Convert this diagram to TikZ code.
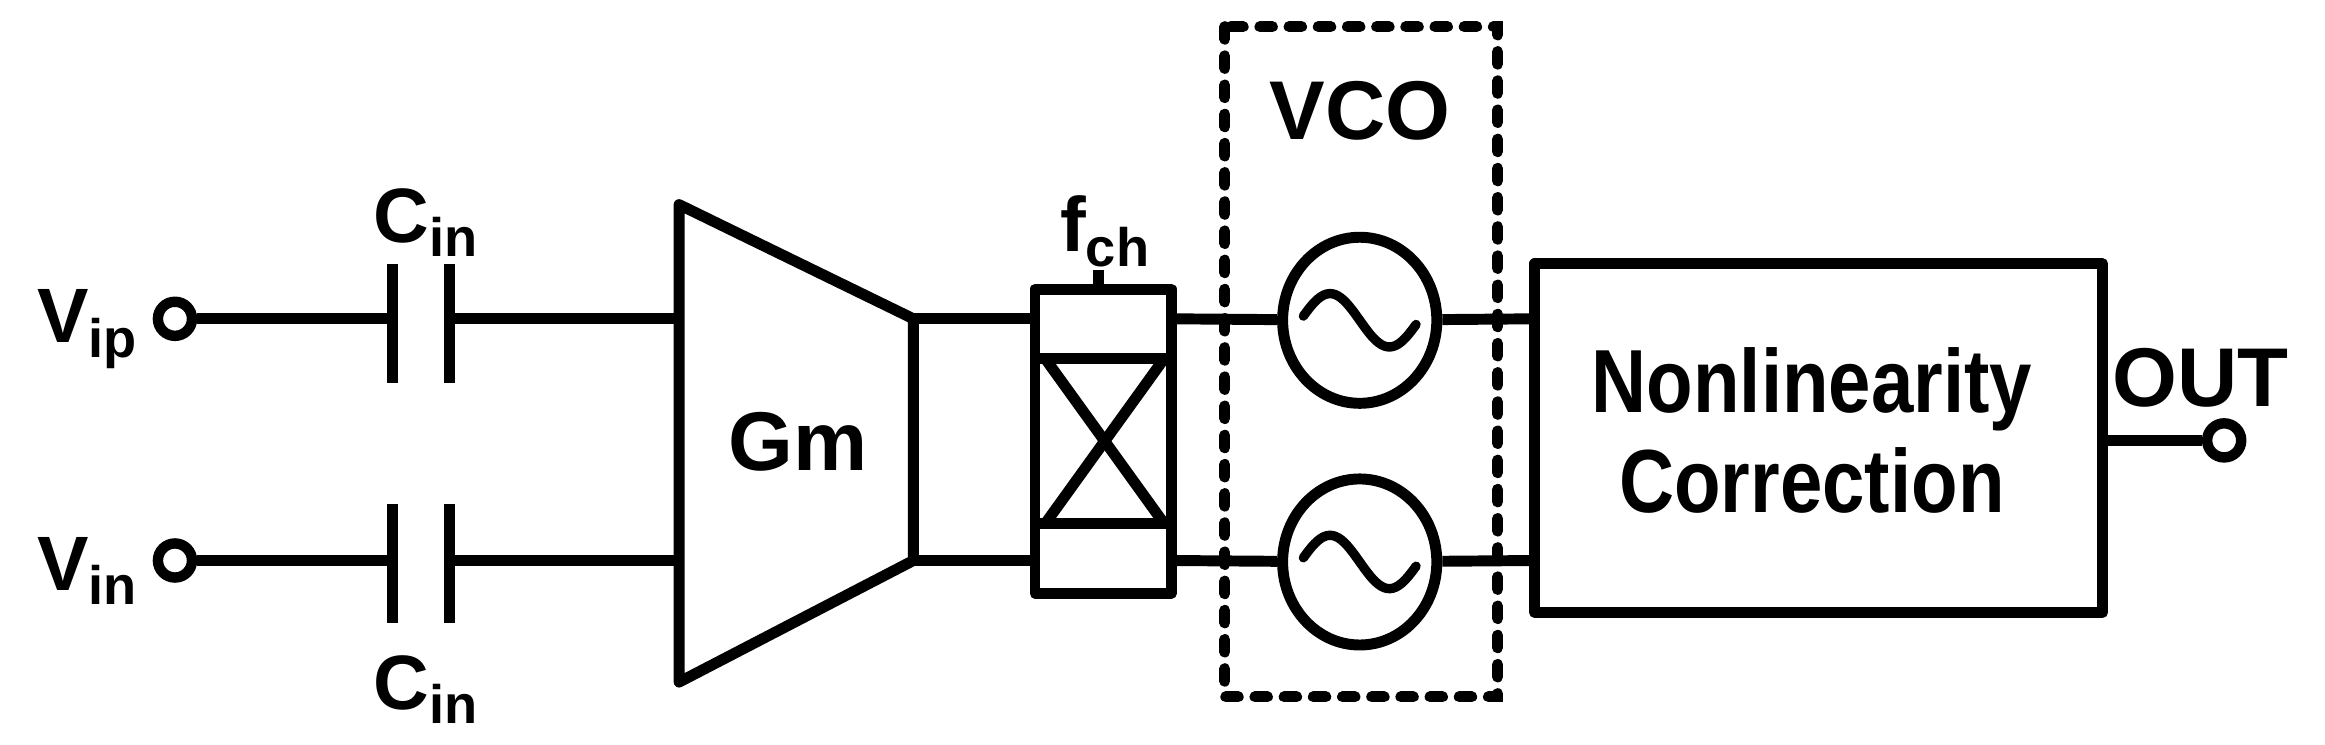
\documentclass[tikz,border=0pt]{standalone}
\usepackage{fontspec}
\usetikzlibrary{shapes.geometric}
\setmainfont{Liberation Sans}
\begin{document}
\begin{tikzpicture}[x=0.05cm,y=-0.05cm,line width=10.5pt,
  lbl/.style={font=\bfseries\fontsize{74}{80}\selectfont,inner sep=0},
  big/.style={font=\bfseries\fontsize{86}{100}\selectfont,inner sep=0,align=center},
  port/.style={circle,draw,line width=10pt,minimum size=1.15cm,inner sep=0},
  osc/.style={ellipse,draw,line width=10.5pt,minimum width=5.2cm,minimum height=5.6cm,inner sep=0},
  dsh/.style={line width=10.5pt,dash pattern=on 12pt off 16pt,line cap=round}]
\useasboundingbox (0,0) rectangle (1568,502);
% ports
\node[port] (vip) at (118,215) {};
\node[port] (vin) at (118,378) {};
\node[lbl,anchor=east] at (96,222) {V\raisebox{-0.35ex}{\fontsize{52}{56}\selectfont ip}};
\node[lbl,anchor=east] at (96,385) {V\raisebox{-0.35ex}{\fontsize{52}{56}\selectfont in}};
% capacitors
\coordinate (c1a) at (265,215); \coordinate (c1b) at (303,215);
\coordinate (c2a) at (265,378); \coordinate (c2b) at (303,378);
\draw (vip) -- (c1a); \draw (c1b) -- (458,215);
\draw (vin) -- (c2a); \draw (c2b) -- (458,378);
\draw (265,178) -- (265,258); \draw (303,178) -- (303,258);
\draw (265,340) -- (265,420); \draw (303,340) -- (303,420);
\node[lbl] at (287,150) {C\raisebox{-0.35ex}{\fontsize{52}{56}\selectfont in}};
\node[lbl] at (287,465) {C\raisebox{-0.35ex}{\fontsize{52}{56}\selectfont in}};
% Gm
\draw[line join=round] (458,138) -- (616,215) -- (616,378) -- (458,460) -- cycle;
\node[lbl,font=\bfseries\fontsize{80}{80}\selectfont] at (538,298) {Gm};
\draw (616,215) -- (698,215); \draw (616,378) -- (698,378);
% chopper
\draw[line join=round] (698,195) rectangle (790,400);
\draw (698,242) -- (790,242); \draw (698,353) -- (790,353);
\draw (705,242) -- (785,353); \draw (785,242) -- (705,353);
\draw (741,195) -- (741,182);
\node[lbl] at (745,156) {f\raisebox{-0.35ex}{\fontsize{52}{56}\selectfont ch}};
% VCO
\node[osc] (o1) at (917,216) {};
\node[osc] (o2) at (917,379) {};
\foreach \o in {o1,o2}{
  \begin{scope}[shift={(\o.center)},x=1cm,y=1cm]
  \draw[line width=9pt,line cap=round,smooth] plot[domain=-1.9:1.9,samples=40] (\x,{-0.9*sin(\x*90)});
  \end{scope}
}
\draw (790,215) -- (o1); \draw (790,378) -- (o2);
\draw (o1) -- (1035,215); \draw (o2) -- (1035,378);
\draw[dsh] (826,18) rectangle (1010,470);
\node[lbl,font=\bfseries\fontsize{80}{80}\selectfont] at (917,75) {VCO};
% NL box
\draw[line join=round] (1035,178) rectangle (1418,413);
\node[big] at (1222,298) {\scalebox{0.85}[1]{\begin{tabular}{c}Nonlinearity\\[-4pt]Correction\end{tabular}}};
\node[port] (out) at (1500,297) {};
\draw (1418,297) -- (out);
\node[lbl,font=\bfseries\fontsize{80}{80}\selectfont] at (1484,255) {OUT};
\end{tikzpicture}
\end{document}
